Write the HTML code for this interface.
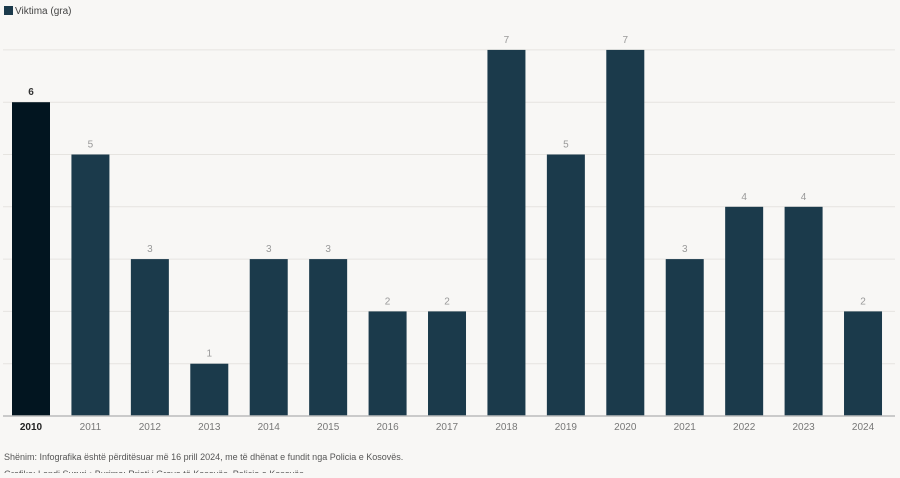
<!DOCTYPE html>
<html><head><meta charset="utf-8"><style>
body{margin:0;background:#f8f7f5;width:900px;height:473px;overflow:hidden;font-family:"Liberation Sans",sans-serif}
</style></head><body>
<svg width="900" height="473">
<rect x="4" y="6" width="9" height="9" fill="#1b3a4b"/>
<text x="15" y="14" font-size="10" fill="#444">Viktima (gra)</text>
<g id="grid"></g><g id="bars"></g>
<line x1="3" x2="895" y1="416" y2="416" stroke="#bbb" stroke-width="1.5"/>
<text x="4" y="460" font-size="9" fill="#555">Shënim: Infografika është përditësuar më 16 prill 2024, me të dhënat e fundit nga Policia e Kosovës.</text>
<text x="4" y="477" font-size="9" fill="#555">Grafika: Lendi Sururi • Burime: Rrjeti i Grave të Kosovës, Policia e Kosovës</text>
</svg>
<script>
const categories=["2010","2011","2012","2013","2014","2015","2016","2017","2018","2019","2020","2021","2022","2023","2024"];
const values=[6,5,3,1,3,3,2,2,7,5,7,3,4,4,2];
const yTicks=[1,2,3,4,5,6,7];
const ns="http://www.w3.org/2000/svg";
const y=v=>416-v*52.3, x=i=>31+i*59.43;
const g=document.getElementById('grid'),b=document.getElementById('bars');
function mk(t,a,p){const e=document.createElementNS(ns,t);for(const k in a)e.setAttribute(k,a[k]);p.appendChild(e);return e;}
yTicks.forEach(t=>{const l=mk('line',{x1:3,x2:895,y1:y(t),y2:y(t),stroke:'#e6e4e0','stroke-width':1},g);

});
values.forEach((v,i)=>{const hi=i===0;
const r=mk('rect',{x:x(i)-19,y:y(v),width:38,height:416-y(v),fill:hi?'#021520':'#1b3a4b'},b);


const t=mk('text',{x:x(i),y:y(v)-7,'text-anchor':'middle','font-size':10,fill:hi?'#333':'#999','font-weight':hi?'bold':'normal'},b);t.textContent=v;


const c=mk('text',{x:x(i),y:430,'text-anchor':'middle','font-size':10,fill:hi?'#222':'#777','font-weight':hi?'bold':'normal'},b);c.textContent=categories[i];

});
</script>
</body></html>
